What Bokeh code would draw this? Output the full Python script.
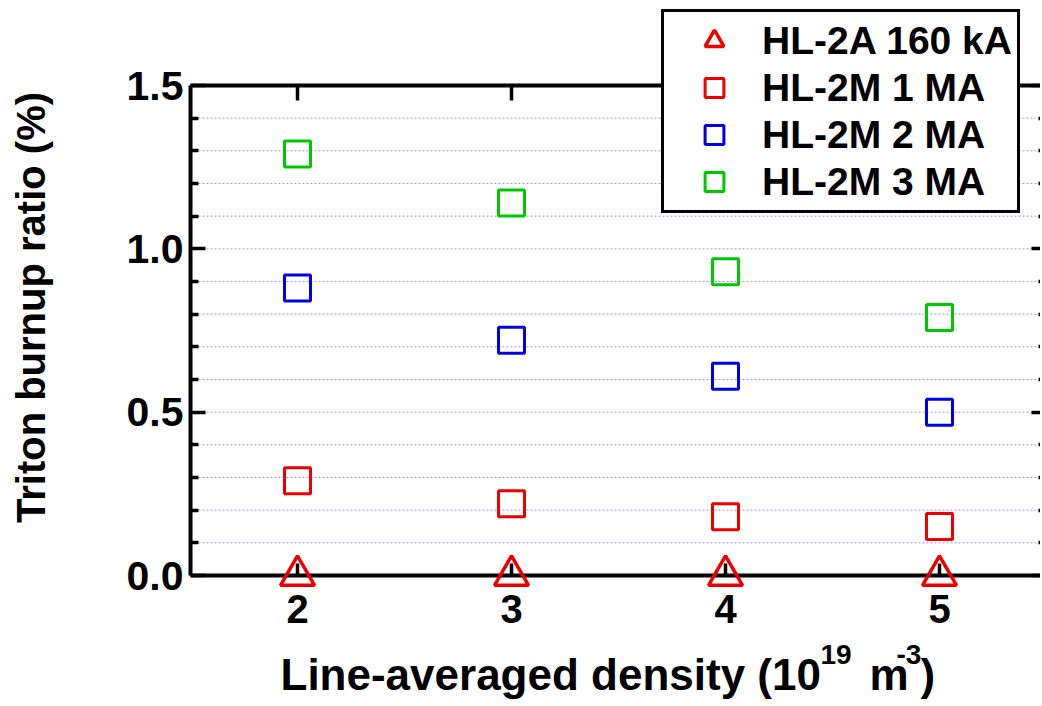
import math
from bokeh.plotting import figure
from bokeh.models import (LinearAxis, FixedTicker, NumeralTickFormatter, Legend,
                          LegendItem, Label, Range1d)
from bokeh.embed import file_html
from bokeh.resources import INLINE

# ---- data ----
density = [2, 3, 4, 5]
hl2a_160ka = [0.0, 0.0, 0.0, 0.0]
hl2m_1ma = [0.29, 0.22, 0.18, 0.15]
hl2m_2ma = [0.88, 0.72, 0.61, 0.50]
hl2m_3ma = [1.29, 1.14, 0.93, 0.79]

series_labels = ["HL-2A 160 kA", "HL-2M 1 MA", "HL-2M 2 MA", "HL-2M 3 MA"]
x_ticks = [2, 3, 4, 5]
x_lim = (1.5, 5.5)
y_lim = (0.0, 1.5)
y_major_ticks = [0.0, 0.5, 1.0, 1.5]
y_minor_ticks = [0.1, 0.2, 0.3, 0.4, 0.6, 0.7, 0.8, 0.9, 1.1, 1.2, 1.3, 1.4]
grid_ticks = [0.1, 0.2, 0.3, 0.4, 0.5, 0.6, 0.7, 0.8, 0.9, 1.0, 1.1, 1.2, 1.3, 1.4]

RED = "#ee0000"
BLUE = "#0000e6"
GREEN = "#00c800"
FONT = "Liberation Sans"

# ---- layout (pixels) ----
W, H = 1040, 704
BOX_L, BOX_R, BOX_T, BOX_B = 190, 1046, 85, 575   # plot box on the canvas
ppx = (BOX_R - BOX_L) / (x_lim[1] - x_lim[0])
ppy = (BOX_B - BOX_T) / (y_lim[1] - y_lim[0])
x_range = Range1d(x_lim[0] - BOX_L / ppx, x_lim[0] - BOX_L / ppx + W / ppx)
y_range = Range1d(y_lim[0] - (H - BOX_B) / ppy, y_lim[1] + BOX_T / ppy)

p = figure(width=W, height=H, output_backend="svg", toolbar_location=None,
           x_range=x_range, y_range=y_range,
           min_border_left=0, min_border_right=0, min_border_top=0,
           min_border_bottom=0, x_axis_location=None, y_axis_location=None)
p.outline_line_color = None
p.background_fill_color = "white"
p.border_fill_color = "white"

# grid (dotted, only inside the plot box)
p.xgrid.visible = False
p.ygrid.visible = False
p.segment(x0=[x_lim[0]] * len(grid_ticks), x1=[x_lim[1]] * len(grid_ticks),
          y0=grid_ticks, y1=grid_ticks, line_color="#8c8ce6", line_dash="2 2",
          line_width=1, line_alpha=0.9)


def make_axis(ticks, minor, loc, bounds, labels=True):
    ax = LinearAxis(ticker=FixedTicker(ticks=ticks, minor_ticks=minor),
                    fixed_location=loc, bounds=bounds)
    ax.axis_line_width = 4
    ax.axis_line_color = "black"
    ax.major_tick_line_width = 3.5
    ax.minor_tick_line_width = 3.5
    ax.major_tick_line_color = "black"
    ax.minor_tick_line_color = "black"
    ax.major_tick_out = 0
    ax.minor_tick_out = 0
    ax.major_label_text_font = FONT
    ax.major_label_text_font_style = "bold"
    ax.major_label_text_color = "black"
    if not labels:
        ax.major_label_overrides = {t: "" for t in ticks}
        ax.major_label_standoff = 0
    return ax


# left axis
yl = make_axis(y_major_ticks, y_minor_ticks, x_lim[0], y_lim)
yl.formatter = NumeralTickFormatter(format="0.0")
yl.major_tick_in = 15
yl.minor_tick_in = 8
yl.major_label_text_font_size = "41px"
yl.major_label_standoff = 7
p.add_layout(yl, "left")

# right axis
yr = make_axis(y_major_ticks, y_minor_ticks, x_lim[1], y_lim, labels=False)
yr.major_tick_in = 15
yr.minor_tick_in = 8
p.add_layout(yr, "right")

# bottom axis
xb = make_axis(x_ticks, [], y_lim[0], x_lim)
xb.formatter = NumeralTickFormatter(format="0")
xb.major_tick_in = 12
xb.minor_tick_in = 0
xb.major_label_text_font_size = "40px"
xb.major_label_standoff = 19
p.add_layout(xb, "below")

# top axis
xt = make_axis(x_ticks, [], y_lim[1], x_lim, labels=False)
xt.major_tick_in = 15
xt.minor_tick_in = 0
p.add_layout(xt, "above")

# data
r0 = p.scatter(density, hl2a_160ka, marker="triangle", size=34, fill_color=None,
               line_color=RED, line_width=3.5, level="overlay")
r1 = p.scatter(density, hl2m_1ma, marker="square", size=26, fill_color=None,
               line_color=RED, line_width=3)
r2 = p.scatter(density, hl2m_2ma, marker="square", size=26, fill_color=None,
               line_color=BLUE, line_width=3)
r3 = p.scatter(density, hl2m_3ma, marker="square", size=26, fill_color=None,
               line_color=GREEN, line_width=3)

legend = Legend(items=[LegendItem(label=series_labels[0], renderers=[r0]),
                       LegendItem(label=series_labels[1], renderers=[r1]),
                       LegendItem(label=series_labels[2], renderers=[r2]),
                       LegendItem(label=series_labels[3], renderers=[r3])],
                location=(661, H - 213))
legend.glyph_width = 90
legend.glyph_height = 47
legend.spacing = 0
legend.padding = 5
legend.margin = 0
legend.label_standoff = 3
legend.label_text_font = FONT
legend.label_text_font_style = "bold"
legend.label_text_font_size = "39px"
legend.label_text_color = "black"
legend.border_line_color = "black"
legend.border_line_alpha = 1.0
legend.border_line_width = 3.5
legend.background_fill_color = "white"
legend.background_fill_alpha = 1.0
p.add_layout(legend, "center")

# axis titles (composed so the exponents can be raised); screen coords from bottom-left
common = dict(x_units="screen", y_units="screen", text_font=FONT,
              text_font_style="bold", text_color="black",
              text_baseline="alphabetic", text_align="left")
p.add_layout(Label(x=30, y=H - 307, angle=math.pi / 2, text="Triton burnup ratio (%)",
                   text_font_size="40px", **{**common, "text_align": "center"}))
p.add_layout(Label(x=280, y=H - 674, text="Line-averaged density (10",
                   text_font_size="44px", **common))
p.add_layout(Label(x=820, y=H - 654, text="19", text_font_size="28px", **common))
p.add_layout(Label(x=869, y=H - 674, text="m", text_font_size="44px", **common))
p.add_layout(Label(x=896, y=H - 654, text="-3", text_font_size="28px", **common))
p.add_layout(Label(x=920, y=H - 674, text=")", text_font_size="44px", **common))

open("out.html", "w").write(file_html(p, INLINE))
